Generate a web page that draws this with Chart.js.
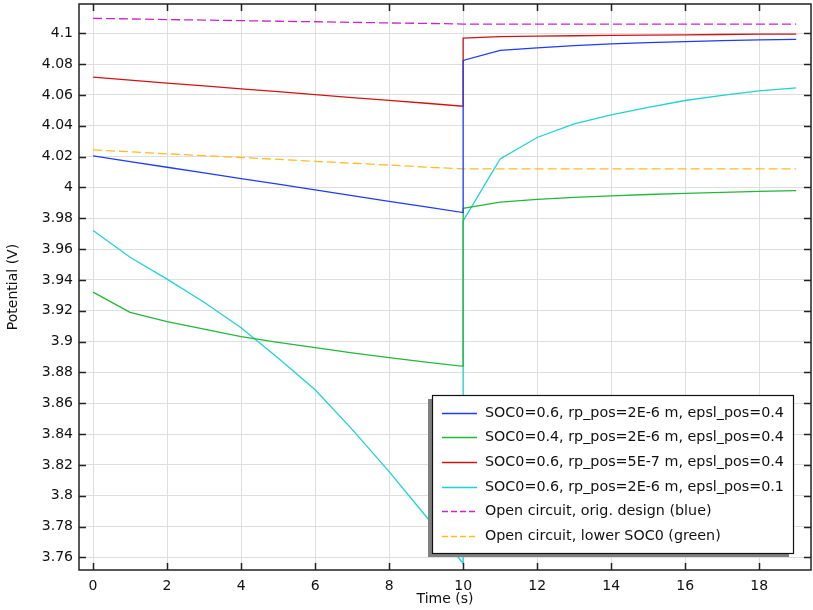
<!DOCTYPE html>
<html lang="en">
  <head>
    <meta charset="UTF-8" />
    <script src="https://cdn.jsdelivr.net/npm/chart.js@4.4.0/dist/chart.umd.min.js"></script>
    <title>Potential vs time</title>
    <style>
      body { margin: 0; background: #fff; }
    </style>
  </head>
  <body>
    <canvas id="myChart" width="813" height="610"></canvas>

    <script>
      // time points: discharge 0..10 s, then relaxation 10..19 s
      const tDischarge = [0, 1, 2, 3, 4, 5, 6, 7, 8, 9, 10];
      const tRelax = [10, 11, 12, 13, 14, 15, 16, 17, 18, 19];
      const tOpen = [0, 1, 2, 3, 4, 5, 6, 7, 8, 9, 10, 11, 12, 13, 14, 15, 16, 17, 18, 19];

      const labels = [
        "SOC0=0.6, rp_pos=2E-6 m, epsl_pos=0.4",
        "SOC0=0.4, rp_pos=2E-6 m, epsl_pos=0.4",
        "SOC0=0.6, rp_pos=5E-7 m, epsl_pos=0.4",
        "SOC0=0.6, rp_pos=2E-6 m, epsl_pos=0.1",
        "Open circuit, orig. design (blue)",
        "Open circuit, lower SOC0 (green)"
      ];

      const blueDis = [4.0204, 4.0167, 4.0131, 4.0094, 4.0057, 4.0021, 3.9984, 3.9947, 3.991, 3.9874, 3.9837];
      const blueRelax = [4.0824, 4.0889, 4.0906, 4.092, 4.0931, 4.094, 4.0946, 4.0952, 4.0957, 4.0961];
      const greenDis = [3.9321, 3.919, 3.9129, 3.908, 3.9032, 3.8995, 3.896, 3.8927, 3.8896, 3.8867, 3.8839];
      const greenRelax = [3.9865, 3.9904, 3.9923, 3.9935, 3.9945, 3.9954, 3.9962, 3.9968, 3.9974, 3.9979];
      const redDis = [4.0715, 4.0696, 4.0677, 4.0659, 4.064, 4.0621, 4.0602, 4.0583, 4.0565, 4.0546, 4.0527];
      const redRelax = [4.0968, 4.0978, 4.0981, 4.0984, 4.0986, 4.0988, 4.099, 4.0992, 4.0994, 4.0995];
      const cyanDis = [3.972, 3.9547, 3.9405, 3.9255, 3.909, 3.8894, 3.8687, 3.843, 3.8156, 3.7865, 3.756];
      const cyanRelax = [3.9782, 4.0185, 4.0324, 4.0413, 4.0471, 4.052, 4.0564, 4.0597, 4.0626, 4.0646];
      const ocvOrig = [4.1097, 4.1093, 4.1089, 4.1086, 4.1082, 4.1078, 4.1075, 4.1071, 4.1067, 4.1064, 4.106,
                       4.106, 4.106, 4.106, 4.106, 4.106, 4.106, 4.106, 4.106, 4.106];
      const ocvLow = [4.0243, 4.0231, 4.0218, 4.0206, 4.0194, 4.0182, 4.0169, 4.0157, 4.0145, 4.0132, 4.012,
                      4.012, 4.012, 4.012, 4.012, 4.012, 4.012, 4.012, 4.012, 4.012];

      const xTicks = [0, 2, 4, 6, 8, 10, 12, 14, 16, 18];
      const yTicks = [3.76, 3.78, 3.8, 3.82, 3.84, 3.86, 3.88, 3.9, 3.92, 3.94, 3.96, 3.98,
                      4, 4.02, 4.04, 4.06, 4.08, 4.1];

      const colors = ["#1f3cf5", "#22b83a", "#d01414", "#1fd3d3", "#cc22cc", "#ffbb22"];

      function pts(xs, ys) {
        return xs.map((x, i) => ({ x: x, y: ys[i] }));
      }
      function twoPart(a, b) {
        return pts(tDischarge, a).concat(pts(tRelax, b));
      }

      const seriesData = [
        twoPart(blueDis, blueRelax),
        twoPart(greenDis, greenRelax),
        twoPart(redDis, redRelax),
        twoPart(cyanDis, cyanRelax),
        pts(tOpen, ocvOrig),
        pts(tOpen, ocvLow)
      ];

      const font = { family: "DejaVu Sans", size: 14 };

      // ticks pointing inwards on all four sides, plus the frame
      const frameTicks = {
        id: "frameTicks",
        afterDatasetsDraw(chart) {
          const ctx = chart.ctx;
          const a = chart.chartArea;
          const xs = chart.scales.x, ys = chart.scales.y;
          ctx.save();
          ctx.strokeStyle = "#222";
          ctx.lineWidth = 1.5;
          ctx.beginPath();
          xTicks.forEach(v => {
            const px = Math.round(xs.getPixelForValue(v)) + 0.5;
            ctx.moveTo(px, a.bottom); ctx.lineTo(px, a.bottom - 7);
            ctx.moveTo(px, a.top); ctx.lineTo(px, a.top + 7);
          });
          yTicks.forEach(v => {
            const py = Math.round(ys.getPixelForValue(v)) + 0.5;
            ctx.moveTo(a.left, py); ctx.lineTo(a.left + 7, py);
            ctx.moveTo(a.right, py); ctx.lineTo(a.right - 7, py);
          });
          ctx.stroke();
          ctx.strokeRect(a.left, a.top, a.right - a.left, a.bottom - a.top);
          ctx.restore();
        }
      };

      // boxed legend inside the plot, with a drop shadow
      const boxLegend = {
        id: "boxLegend",
        afterDraw(chart) {
          const ctx = chart.ctx;
          const a = chart.chartArea;
          const w = 361, h = 158;
          const x = a.right - 18 - w, y = a.bottom - 17 - h;
          ctx.save();
          ctx.fillStyle = "#808080";
          ctx.fillRect(x - 4, y + 4, w, h);
          ctx.fillStyle = "#fff";
          ctx.fillRect(x, y, w, h);
          ctx.strokeStyle = "#111";
          ctx.lineWidth = 1.2;
          ctx.strokeRect(x + 0.5, y + 0.5, w, h);
          ctx.font = "14.3px 'DejaVu Sans'";
          ctx.textBaseline = "middle";
          chart.data.datasets.forEach((ds, i) => {
            const ry = Math.round(y + 17.5 + i * 24.7) + 0.5;
            ctx.strokeStyle = ds.borderColor;
            ctx.lineWidth = 1.3;
            ctx.setLineDash(ds.borderDash.length ? [6, 3] : []);
            ctx.beginPath();
            ctx.moveTo(x + 10, ry);
            ctx.lineTo(x + 45, ry);
            ctx.stroke();
            ctx.setLineDash([]);
            ctx.fillStyle = "#111";
            ctx.fillText(ds.label, x + 53, ry);
          });
          ctx.restore();
        }
      };

      const ctx = document.getElementById("myChart").getContext("2d");
      const chart = new Chart(ctx, {
        type: "line",
        data: {
          datasets: seriesData.map((d, i) => ({
            label: labels[i],
            data: d,
            borderColor: colors[i],
            borderWidth: 1.3,
            borderDash: i >= 4 ? [9, 4] : [],
            pointRadius: 0,
            fill: false,
            tension: 0
          }))
        },
        options: {
          responsive: false,
          animation: false,
          devicePixelRatio: 1,
          layout: { padding: { top: 4, right: 2, left: 0, bottom: 0 } },
          plugins: {
            legend: { display: false },
            tooltip: { enabled: false }
          },
          scales: {
            x: {
              type: "linear",
              min: -0.38,
              max: 19.4,
              afterBuildTicks: s => { s.ticks = xTicks.map(v => ({ value: v })); },
              afterFit: s => {
                s.height = 40;
                s.paddingLeft = 0; s.paddingRight = 0;
              },
              grid: { color: "#dedede", drawTicks: false },
              border: { display: false },
              ticks: { font: font, color: "#111", padding: 8, autoSkip: false, maxRotation: 0 },
              title: { display: true, text: "Time (s)", font: font, color: "#111", padding: { top: 0, bottom: 2 } }
            },
            y: {
              min: 3.7518,
              max: 4.119,
              afterBuildTicks: s => { s.ticks = yTicks.map(v => ({ value: v })); },
              afterFit: s => {
                s.width = 79;
                s.paddingTop = 0; s.paddingBottom = 0;
              },
              grid: { color: "#dedede", drawTicks: false },
              border: { display: false },
              ticks: {
                font: font,
                color: "#111",
                padding: 6,
                autoSkip: false,
                callback: v => String(Number(v.toFixed(2)))
              },
              title: { display: true, text: "Potential (V)", font: font, color: "#111", padding: { top: 5, bottom: 0 } }
            }
          }
        },
        plugins: [frameTicks, boxLegend]
      });
    </script>
  </body>
</html>
